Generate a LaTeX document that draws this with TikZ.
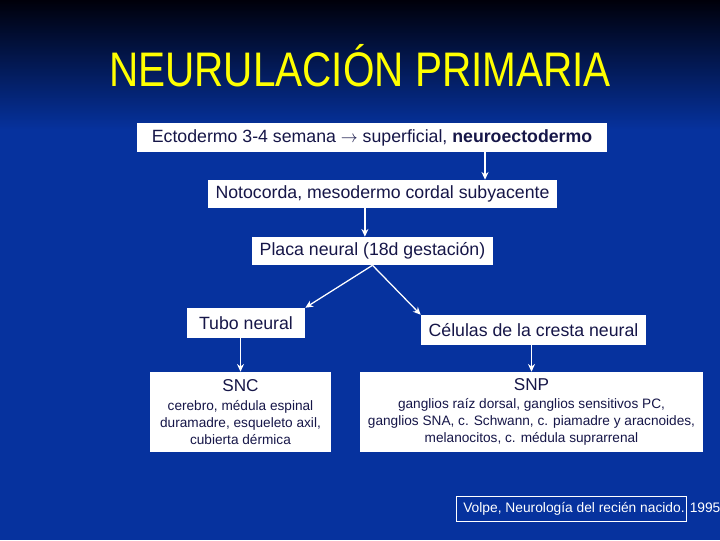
\documentclass[tikz,border=0pt]{standalone}
\usepackage{fontspec}
\setmainfont{Liberation Sans}
\usepackage{xcolor}
\usetikzlibrary{arrows.meta}
\definecolor{navytxt}{RGB}{22,22,72}
\definecolor{slideblue}{RGB}{6,50,158}
\definecolor{slidetop}{RGB}{0,0,10}
\definecolor{titleyellow}{RGB}{255,255,0}

\begin{document}
\begin{tikzpicture}[x=0.025cm,y=-0.025cm,
  box/.style={fill=white,text=navytxt,inner sep=0pt,align=center,
              font=\fontsize{12.6}{15}\selectfont},
  infobox/.style={box,font=\fontsize{9.7}{12.1}\selectfont},
  arr/.style={-{Stealth[length=5.5pt,width=5pt]},white,line width=0.9pt}]
  \fill[slideblue] (0,0) rectangle (720,540);
  \shade[top color=slidetop,bottom color=slideblue] (0,0) rectangle (720,130);
  \useasboundingbox (0,0) rectangle (720,540);
  \node[text=titleyellow,font=\fontsize{34.5}{40}\selectfont] (title) at (360,66)
    {\scalebox{0.835}[1]{NEURULACIÓN PRIMARIA}};
  \node[box,minimum width=11.75cm,minimum height=0.725cm] (E) at (372,137.5)
    {Ectodermo 3-4 semana $\rightarrow$ superficial, \textbf{neuroectodermo}};
  \node[box,minimum width=8.725cm,minimum height=0.7cm] (N) at (382.5,194)
    {Notocorda, mesodermo cordal subyacente};
  \node[box,minimum width=6.025cm,minimum height=0.7cm] (P) at (372.5,251)
    {Placa neural (18d gestación)};
  \node[box,minimum width=2.95cm,minimum height=0.75cm] (T) at (246,323) {Tubo neural};
  \node[box,minimum width=5.625cm,minimum height=0.75cm] (C) at (533.5,330)
    {Células de la cresta neural};
  \node[infobox,minimum width=4.525cm,minimum height=2cm] (SNC) at (240.5,412)
    {{\fontsize{12.2}{14}\selectfont SNC}\\[1pt]
     cerebro, médula espinal\\ duramadre, esqueleto axil,\\ cubierta dérmica};
  \node[infobox,minimum width=8.575cm,minimum height=2cm] (SNP) at (531.5,412)
    {{\fontsize{12.2}{14}\selectfont SNP}\\[1pt]
     ganglios raíz dorsal, ganglios sensitivos PC,\\
     ganglios SNA, c. Schwann, c. piamadre y aracnoides,\\
     melanocitos, c. médula suprarrenal};
  % referencia
  \draw[white,line width=0.6pt] (456,496) rectangle (686,521);
  \node[anchor=west,text=white,inner sep=0pt,font=\fontsize{9.8}{11}\selectfont] (V) at (463,509)
    {Volpe, Neurología del recién nacido. 1995};
  \draw[arr] ([xshift=2.825cm]E.south) -- ([xshift=2.825cm]E.south |- N.north);
  \draw[arr] ([xshift=-0.44cm]N.south) -- ([xshift=-0.44cm]N.south |- P.north);
  \draw[arr] (P.south) -- (T.north east); \draw[arr] (P.south) -- (C.north west);
  \draw[arr] (T.south -| SNC.north) -- (SNC.north);
  \draw[arr] (C.south -| SNP.north) -- (SNP.north);
\end{tikzpicture}
\end{document}
